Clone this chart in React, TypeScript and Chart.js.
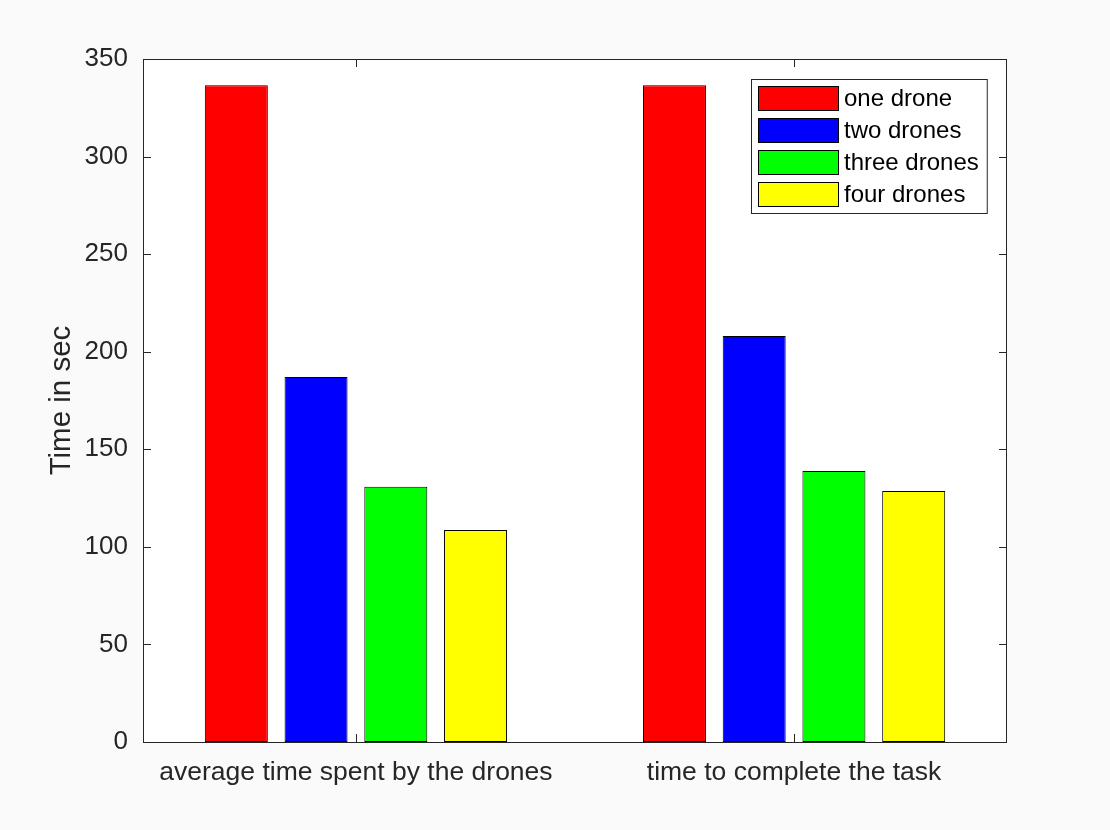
import { useEffect, useRef } from 'react'
import { Chart, registerables, Plugin } from 'chart.js'

Chart.register(...registerables)

const categories = ['average time spent by the drones', 'time to complete the task']
const seriesLabels = ['one drone', 'two drones', 'three drones', 'four drones']
const oneDrone = [336.6, 336.6]
const twoDrones = [187, 208]
const threeDrones = [130.8, 138.9]
const fourDrones = [108.6, 128.6]
const seriesColors = ['#ff0000', '#0000ff', '#00ff00', '#ffff00']
const yTicks = [0, 50, 100, 150, 200, 250, 300, 350]

const FONT = '"Liberation Sans", Arial, Helvetica, sans-serif'
const AXIS = '#262626'

// white plot area, box, inward tick marks (MATLAB look)
const boxPlugin: Plugin<'bar'> = {
  id: 'matlabBox',
  beforeDraw(chart) {
    const { ctx, chartArea: a } = chart
    ctx.save()
    ctx.fillStyle = '#ffffff'
    ctx.fillRect(a.left, a.top, a.right - a.left, a.bottom - a.top)
    ctx.restore()
  },
  afterDraw(chart) {
    const { ctx, chartArea: a } = chart
    const x = chart.scales.x
    const y = chart.scales.y
    const len = 8
    ctx.save()
    ctx.strokeStyle = AXIS
    ctx.lineWidth = 1
    ctx.beginPath()
    yTicks.forEach(v => {
      const py = Math.round(y.getPixelForValue(v)) + 0.5
      ctx.moveTo(a.left, py)
      ctx.lineTo(a.left + len, py)
      ctx.moveTo(a.right, py)
      ctx.lineTo(a.right - len, py)
    })
    categories.forEach((_, i) => {
      const px = Math.round(x.getPixelForValue(i + 1)) + 0.5
      ctx.moveTo(px, a.bottom)
      ctx.lineTo(px, a.bottom - len)
      ctx.moveTo(px, a.top)
      ctx.lineTo(px, a.top + len)
    })
    ctx.stroke()
    ctx.strokeRect(a.left + 0.5, a.top + 0.5, a.right - a.left - 1, a.bottom - a.top)
    ctx.restore()
  },
}

// legend box inside the upper right corner of the axes
const legendPlugin: Plugin<'bar'> = {
  id: 'innerLegend',
  afterDraw(chart) {
    const { ctx, chartArea: a } = chart
    const sets = chart.data.datasets
    ctx.save()
    ctx.font = `24px ${FONT}`
    const textW = Math.max(...sets.map(d => ctx.measureText(String(d.label)).width))
    const padX = 7
    const swW = 80
    const swH = 24
    const gap = 6
    const rowH = 32
    const w = padX + swW + gap + textW + 8
    const h = 7 + rowH * (sets.length - 1) + swH + 7
    const left = Math.round(a.right - 20 - w)
    const top = a.top + 20
    ctx.fillStyle = '#ffffff'
    ctx.fillRect(left, top, w, h)
    ctx.strokeStyle = AXIS
    ctx.lineWidth = 1
    ctx.strokeRect(left + 0.5, top + 0.5, w, h)
    sets.forEach((d, i) => {
      const sy = top + 7 + i * rowH
      ctx.fillStyle = String(d.backgroundColor)
      ctx.fillRect(left + padX, sy, swW, swH)
      ctx.strokeStyle = '#000000'
      ctx.strokeRect(left + padX + 0.5, sy + 0.5, swW, swH)
      ctx.fillStyle = '#000000'
      ctx.textBaseline = 'middle'
      ctx.textAlign = 'left'
      ctx.fillText(String(d.label), left + padX + swW + gap, sy + swH / 2 + 1)
    })
    ctx.restore()
  },
}

const App = () => {
  const chartRef = useRef<HTMLCanvasElement>(null)
  const chartInstance = useRef<Chart | null>(null)

  useEffect(() => {
    document.body.style.margin = '0'
    document.body.style.background = '#fafafa'
    if (!chartRef.current) return
    const ctx = chartRef.current.getContext('2d')
    if (!ctx) return

    if (chartInstance.current) chartInstance.current.destroy()

    const values = [oneDrone, twoDrones, threeDrones, fourDrones]

    chartInstance.current = new Chart(ctx, {
      type: 'bar',
      data: {
        datasets: seriesLabels.map((label, i) => ({
          label,
          data: values[i].map((v, c) => ({ x: c + 1, y: v })),
          backgroundColor: seriesColors[i],
          borderColor: '#000000',
          borderWidth: 1,
          borderSkipped: false,
          categoryPercentage: 0.728,
          barPercentage: 0.79,
        })),
      },
      options: {
        responsive: false,
        animation: false,
        devicePixelRatio: 1,
        layout: { padding: { left: 0, top: 59, right: 103, bottom: 0 } },
        plugins: {
          legend: { display: false },
          tooltip: { enabled: false },
        },
        scales: {
          x: {
            type: 'linear',
            min: 0.514,
            max: 2.486,
            offset: false,
            grid: { display: false, drawTicks: false },
            border: { display: false },
            afterBuildTicks: (scale) => {
              scale.ticks = categories.map((_, i) => ({ value: i + 1 }))
            },
            ticks: {
              color: AXIS,
              font: { family: FONT, size: 26.5 },
              padding: 15,
              maxRotation: 0,
              autoSkip: false,
              callback: (v) => categories[Number(v) - 1] ?? '',
            },
            afterFit: (scale) => {
              scale.height = 88
            },
          },
          y: {
            min: 0,
            max: 350,
            grid: { display: false, drawTicks: false },
            border: { display: false },
            ticks: {
              stepSize: 50,
              color: AXIS,
              font: { family: FONT, size: 26 },
              padding: 15,
            },
            title: {
              display: true,
              text: 'Time in sec',
              color: AXIS,
              font: { family: FONT, size: 29.5 },
              padding: { top: 44, bottom: 0 },
            },
            afterFit: (scale) => {
              scale.width = 143
            },
          },
        },
      },
      plugins: [boxPlugin, legendPlugin],
    })

    return () => {
      if (chartInstance.current) {
        chartInstance.current.destroy()
        chartInstance.current = null
      }
    }
  }, [])

  return (
    <div style={{ position: 'absolute', left: 0, top: 0, width: 1110, height: 830, background: '#fafafa' }}>
      <canvas ref={chartRef} width={1110} height={830} />
    </div>
  )
}

export default App
